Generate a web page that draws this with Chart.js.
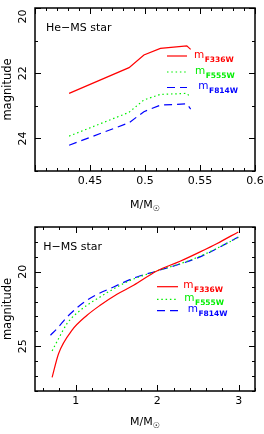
<!DOCTYPE html>
<html>
<head>
<meta charset="utf-8">
<script src="https://cdn.jsdelivr.net/npm/chart.js@4.4.1/dist/chart.umd.min.js"></script>
<style>
  html, body { margin: 0; padding: 0; background: #fff; }
  .panel { position: absolute; left: 0; width: 264px; height: 217px; }
</style>
</head>
<body>
<div class="panel" style="top:0"><canvas id="heChart" width="264" height="217"></canvas></div>
<div class="panel" style="top:217px"><canvas id="hChart" width="264" height="217"></canvas></div>
<script>
// ---- He-MS star panel (shared mass grid) ----
const heMass  = [0.431, 0.4855, 0.499, 0.514, 0.538, 0.5415];
const heF336W = [22.62, 21.83, 21.44, 21.24, 21.16, 21.27];
const heF555W = [23.93, 23.20, 22.82, 22.65, 22.62, 22.74];
const heF814W = [24.21, 23.52, 23.18, 22.98, 22.94, 23.10];
const heXTicks = [0.45, 0.5, 0.55, 0.6];
const heYTicks = [20, 22, 24];

// ---- H-MS star panel ----
const hMassF336W = [0.71, 0.79, 0.955, 1.139, 1.30, 1.506, 1.71, 1.995, 2.28, 2.526, 2.73, 2.995];
const hMagF336W  = [27.09, 25.48, 23.92, 22.92, 22.25, 21.51, 20.91, 19.95, 19.30, 18.67, 18.12, 17.33];
const hMassF555W = [0.71, 0.79, 0.894, 1.057, 1.30, 1.628, 1.995, 2.28, 2.526, 2.995];
const hMagF555W  = [25.31, 24.48, 23.47, 22.58, 21.69, 20.68, 19.95, 19.46, 18.96, 17.71];
const hMassF814W = [0.69, 0.79, 0.894, 1.139, 1.465, 1.75, 1.995, 2.44, 2.61, 2.995];
const hMagF814W  = [24.26, 23.70, 23.03, 21.91, 21.02, 20.35, 19.95, 19.19, 18.79, 17.67];
const hXTicks = [1, 2, 3];
const hYTicks = [20, 25];

const filterNames = ['F336W', 'F555W', 'F814W'];

const FONT = "'DejaVu Sans', 'Liberation Sans', Arial, sans-serif";
const lineStyles = [
    { color: '#ff0000', dash: [] },
    { color: '#00ee00', dash: [1.5, 2.8] },
    { color: '#0000ff', dash: [8, 5] }
];

function pairs(xs, ys) {
    return xs.map((x, i) => ({ x: x, y: ys[i] }));
}

function makeDatasets(series, smooth) {
    return series.map((s, i) => ({
        label: filterNames[i],
        data: pairs(s[0], s[1]),
        borderColor: lineStyles[i].color,
        borderDash: lineStyles[i].dash,
        borderWidth: 1.2,
        pointRadius: 0,
        fill: false,
        tension: 0,
        cubicInterpolationMode: smooth ? 'monotone' : 'default'
    }));
}

// frame, inward ticks, rotated y labels, axis titles, panel text, legend
const panelDecor = {
    id: 'panelDecor',
    afterDatasetsDraw(chart, args, o) {
        const ctx = chart.ctx, a = chart.chartArea;
        const xs = chart.scales.x, ys = chart.scales.y;
        ctx.save();

        // ticks on all four sides
        ctx.strokeStyle = '#000';
        ctx.lineWidth = 1;
        ctx.setLineDash([]);
        ctx.beginPath();
        const isMajor = (v, step) => Math.abs(v / step - Math.round(v / step)) < 1e-6;
        let start = Math.ceil(xs.min / o.xMinor - 1e-6) * o.xMinor;
        for (let i = 0; start + i * o.xMinor <= xs.max + 1e-9; i++) {
            const v = start + i * o.xMinor;
            const px = Math.round(xs.getPixelForValue(v)) + 0.5;
            const len = isMajor(v, o.xMajor) ? 6 : 3;
            ctx.moveTo(px, a.bottom); ctx.lineTo(px, a.bottom - len);
            ctx.moveTo(px, a.top); ctx.lineTo(px, a.top + len);
        }
        start = Math.ceil(ys.min / o.yMinor - 1e-6) * o.yMinor;
        for (let i = 0; start + i * o.yMinor <= ys.max + 1e-9; i++) {
            const v = start + i * o.yMinor;
            const py = Math.round(ys.getPixelForValue(v)) + 0.5;
            const len = isMajor(v, o.yMajor) ? 6 : 3;
            ctx.moveTo(a.left, py); ctx.lineTo(a.left + len, py);
            ctx.moveTo(a.right, py); ctx.lineTo(a.right - len, py);
        }
        ctx.stroke();

        // frame
        ctx.lineWidth = 1.5;
        ctx.strokeRect(a.left, a.top, a.right - a.left, a.bottom - a.top);

        // rotated y tick labels
        ctx.fillStyle = '#000';
        ctx.font = '11px ' + FONT;
        ctx.textAlign = 'center';
        ctx.textBaseline = 'alphabetic';
        o.yLabels.forEach(v => {
            const txt = String(v);
            const half = ctx.measureText(txt).width / 2;
            let py = ys.getPixelForValue(v);
            py = Math.max(py, a.top + half + 1.5);
            py = Math.min(py, a.bottom - half - 1.5);
            ctx.save();
            ctx.translate(25.7, py);
            ctx.rotate(-Math.PI / 2);
            ctx.fillText(txt, 0, 0);
            ctx.restore();
        });

        // y title
        ctx.save();
        ctx.font = '11.5px ' + FONT;
        ctx.translate(10.5, (a.top + a.bottom) / 2);
        ctx.rotate(-Math.PI / 2);
        ctx.fillText('magnitude', 0, 0);
        ctx.restore();

        // x title M/M_sun
        ctx.font = '11px ' + FONT;
        const w1 = ctx.measureText('M/M').width;
        ctx.font = '8px ' + FONT;
        const w2 = ctx.measureText('\u2609').width;
        let tx = (a.left + a.right) / 2 - (w1 + w2) / 2;
        ctx.textAlign = 'left';
        ctx.font = '11px ' + FONT;
        ctx.fillText('M/M', tx, 208);
        ctx.font = '8px ' + FONT;
        ctx.fillText('\u2609', tx + w1, 211);

        // panel label
        ctx.font = '11px ' + FONT;
        ctx.fillText(o.title, o.titleX, o.titleY);

        // legend
        chart.data.datasets.forEach((ds, i) => {
            const ly = o.legend.y[i];
            ctx.strokeStyle = ds.borderColor;
            ctx.lineWidth = ds.borderWidth;
            ctx.setLineDash(ds.borderDash);
            ctx.beginPath();
            ctx.moveTo(o.legend.x1, ly);
            ctx.lineTo(o.legend.x2, ly);
            ctx.stroke();
            ctx.setLineDash([]);
            ctx.fillStyle = ds.borderColor;
            ctx.font = '10.5px ' + FONT;
            const mx = o.legend.textX[i];
            ctx.fillText('m', mx, ly + 1.5);
            const mw = ctx.measureText('m').width;
            ctx.font = 'bold 7.5px ' + FONT;
            ctx.fillText(ds.label, mx + mw + 0.5, ly + 5.5);
        });

        ctx.restore();
    }
};

function makePanel(id, p) {
    return new Chart(document.getElementById(id), {
        type: 'line',
        data: { datasets: makeDatasets(p.series, p.smooth) },
        options: {
            responsive: false,
            animation: false,
            layout: { padding: { top: p.padTop, right: 9, left: 0, bottom: 0 } },
            plugins: {
                legend: { display: false },
                tooltip: { enabled: false },
                panelDecor: p.decor
            },
            scales: {
                x: {
                    type: 'linear', min: p.xMin, max: p.xMax,
                    grid: { display: false, drawTicks: false },
                    border: { display: false },
                    afterBuildTicks: s => { s.ticks = p.xTicks.map(v => ({ value: v })); },
                    afterFit: s => { s.height = p.xAxisH; s.paddingLeft = 0; s.paddingRight = 0; },
                    ticks: {
                        color: '#000', font: { family: FONT, size: 11 }, padding: 4,
                        maxRotation: 0, autoSkip: false, callback: v => String(v)
                    }
                },
                y: {
                    type: 'linear', reverse: true, min: p.yMin, max: p.yMax,
                    grid: { display: false, drawTicks: false },
                    border: { display: false },
                    ticks: { display: false },
                    afterFit: s => { s.width = 35; }
                }
            }
        },
        plugins: [panelDecor]
    });
}

makePanel('heChart', {
    series: [[heMass, heF336W], [heMass, heF555W], [heMass, heF814W]],
    smooth: false,
    xMin: 0.4, xMax: 0.6, yMin: 20, yMax: 25,
    xTicks: heXTicks, padTop: 8, xAxisH: 46,
    decor: {
        xMinor: 0.01, xMajor: 0.05, yMinor: 1, yMajor: 2,
        yLabels: heYTicks,
        title: 'He\u2212MS star', titleX: 46, titleY: 31,
        legend: { x1: 167, x2: 187, y: [56, 72, 87.5], textX: [194, 195, 198.3] }
    }
});

makePanel('hChart', {
    series: [[hMassF336W, hMagF336W], [hMassF555W, hMagF555W], [hMassF814W, hMagF814W]],
    smooth: true,
    xMin: 0.5, xMax: 3.2, yMin: 17, yMax: 28,
    xTicks: hXTicks, padTop: 10, xAxisH: 43,
    decor: {
        xMinor: 0.2, xMajor: 1, yMinor: 1, yMajor: 5,
        yLabels: hYTicks,
        title: 'H\u2212MS star', titleX: 43.3, titleY: 33,
        legend: { x1: 157, x2: 178, y: [69.7, 82.3, 93.7], textX: [183.3, 184.3, 187.7] }
    }
});
</script>
</body>
</html>
